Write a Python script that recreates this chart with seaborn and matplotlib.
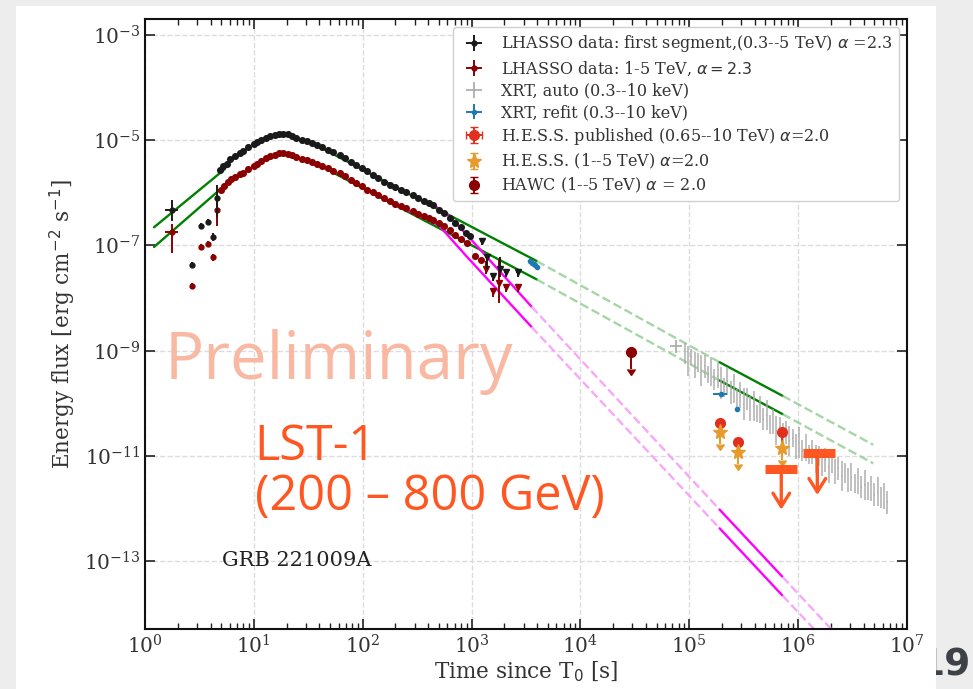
import numpy as np
import matplotlib
matplotlib.use("Agg")
import matplotlib.pyplot as plt
from matplotlib.patches import Rectangle
from matplotlib.ticker import NullLocator
import seaborn as sns

# ---------------------------------------------------------------- data
# LHAASO first segment (0.3-5 TeV), early sparse points
lh_early_t = [1.76, 2.72, 3.25, 3.82, 4.24, 4.62]
lh_early_f = [4.6e-7, 4.3e-8, 2.3e-7, 2.8e-7, 1.45e-7, 7.9e-7]
lh_early_tlo = [0.23, 0.12, 0.13, 0.12, 0.07, 0.05]
lh_early_thi = [0.25, 0.12, 0.13, 0.12, 0.07, 0.05]
lh_early_flo = [1.7e-7, 0.5e-8, 0.3e-7, 0.3e-7, 0.25e-7, 4.4e-7]
lh_early_fhi = [2.8e-7, 0.5e-8, 0.3e-7, 0.3e-7, 0.25e-7, 6.2e-7]

# LHAASO first segment, dense light curve (log10 t, log10 flux)
lh_logt = [0.69, 0.72, 0.75, 0.78, 0.83, 0.87, 0.90, 0.95, 1.00, 1.03,
           1.07, 1.11, 1.15, 1.19, 1.23, 1.27, 1.31, 1.35, 1.39, 1.44,
           1.49, 1.53, 1.58, 1.63, 1.68, 1.73, 1.79, 1.84, 1.89, 1.94,
           1.99, 2.04, 2.09, 2.14, 2.20, 2.25, 2.30, 2.35, 2.40, 2.46,
           2.51, 2.56, 2.61, 2.65, 2.70, 2.75, 2.80, 2.85, 2.90, 2.95, 2.99]
lh_logf = [-5.56, -5.50, -5.45, -5.36, -5.30, -5.24, -5.21, -5.14, -5.08, -5.04,
           -5.00, -4.96, -4.92, -4.90, -4.88, -4.88, -4.89, -4.92, -4.96, -4.99,
           -5.02, -5.05, -5.09, -5.14, -5.19, -5.23, -5.28, -5.35, -5.41, -5.47,
           -5.54, -5.59, -5.66, -5.72, -5.79, -5.85, -5.90, -5.95, -5.99, -6.04,
           -6.10, -6.15, -6.20, -6.23, -6.33, -6.38, -6.48, -6.57, -6.66, -6.76, -6.82]

# LHAASO first segment, late points
lh_late_t = [1234, 1384, 1560, 1823, 2067, 2690]
lh_late_f = [1.2e-7, 6.1e-8, 2.6e-8, 3.5e-8, 3.1e-8, 3.1e-8]
lh_late_flo = [0.2e-7, 2.6e-8, 0.5e-8, 1.0e-8, 0.6e-8, 0.6e-8]
lh_late_fhi = [0.2e-7, 0.5e-8, 0.3e-8, 2.5e-8, 0.3e-8, 0.3e-8]

# LHAASO 1-5 TeV
lr_early_t = [1.76, 2.72, 3.25, 3.82, 4.24, 4.62]
lr_early_f = [1.8e-7, 1.7e-8, 9.3e-8, 1.07e-7, 6.0e-8, 4.7e-7]
lr_early_flo = [1.08e-7, 0.25e-8, 1.2e-8, 1.3e-8, 0.9e-8, 2.4e-7]
lr_early_fhi = [0.7e-7, 0.25e-8, 1.2e-8, 1.3e-8, 0.9e-8, 2.2e-7]

lr_logt = [0.70, 0.73, 0.76, 0.79, 0.83, 0.87, 0.90, 0.95, 1.00, 1.03,
           1.07, 1.11, 1.15, 1.19, 1.23, 1.27, 1.31, 1.35, 1.39, 1.44,
           1.49, 1.53, 1.58, 1.63, 1.68, 1.73, 1.79, 1.84, 1.89, 1.94,
           1.99, 2.04, 2.09, 2.14, 2.20, 2.25, 2.30, 2.35, 2.40, 2.46,
           2.51, 2.56, 2.61, 2.65, 2.70, 2.75, 2.80, 2.85, 2.90, 2.955, 3.03, 3.09]
lr_logf = [-5.94, -5.88, -5.80, -5.74, -5.70, -5.65, -5.62, -5.55, -5.50, -5.46,
           -5.40, -5.35, -5.31, -5.28, -5.25, -5.24, -5.26, -5.28, -5.33, -5.36,
           -5.38, -5.42, -5.45, -5.49, -5.54, -5.58, -5.62, -5.69, -5.75, -5.82,
           -5.88, -5.94, -5.99, -6.04, -6.10, -6.16, -6.21, -6.25, -6.30, -6.35,
           -6.40, -6.44, -6.48, -6.51, -6.58, -6.64, -6.70, -6.80, -6.88, -6.95, -7.21, -7.27]

lr_late_t = [1371, 1585, 1800, 2067, 2690]
lr_late_f = [3.5e-8, 1.35e-8, 1.9e-8, 1.6e-8, 1.6e-8]
lr_late_flo = [0.6e-8, 0.3e-8, 1.1e-8, 0.3e-8, 0.3e-8]
lr_late_fhi = [1.5e-8, 0.2e-8, 3.5e-8, 0.2e-8, 0.2e-8]

# XRT automatic light curve (log10 t, log10 flux, half error in dex)
xrt_logt = [4.96, 4.99, 5.02, 5.05, 5.08, 5.11, 5.14, 5.17, 5.20, 5.23,
            5.26, 5.29, 5.32, 5.35, 5.38, 5.41, 5.44, 5.47, 5.50, 5.53,
            5.56, 5.59, 5.62, 5.65, 5.68, 5.71, 5.74, 5.77, 5.80, 5.83,
            5.86, 5.89, 5.92, 5.95, 5.98, 6.01, 6.04, 6.07, 6.10, 6.13,
            6.16, 6.19, 6.22, 6.25, 6.28, 6.31, 6.34, 6.37, 6.40, 6.43,
            6.46, 6.49, 6.52, 6.55, 6.58, 6.61, 6.64, 6.67, 6.70, 6.73,
            6.76, 6.79, 6.82]
xrt_logf = [-9.05, -9.20, -9.12, -9.28, -9.22, -9.38, -9.30, -9.45, -9.40, -9.55,
            -9.48, -9.62, -9.70, -9.58, -9.80, -9.72, -9.90, -9.85, -10.02, -9.92,
            -10.10, -10.05, -10.20, -10.12, -10.30, -10.22, -10.40, -10.35, -10.52, -10.45,
            -10.62, -10.55, -10.72, -10.66, -10.82, -10.75, -10.90, -10.84, -10.98, -10.92,
            -11.06, -11.00, -11.14, -11.08, -11.22, -11.15, -11.30, -11.24, -11.38, -11.32,
            -11.46, -11.40, -11.52, -11.48, -11.60, -11.55, -11.66, -11.62, -11.74, -11.68,
            -11.80, -11.76, -11.88]
xrt_err = [0.20, 0.28, 0.15, 0.25, 0.18, 0.30, 0.22, 0.16, 0.27, 0.20,
           0.24, 0.30, 0.18, 0.26, 0.22, 0.28, 0.17, 0.25, 0.30, 0.20,
           0.23, 0.28, 0.16, 0.26, 0.21, 0.29, 0.18, 0.24, 0.27, 0.19,
           0.25, 0.22, 0.28, 0.17, 0.24, 0.30, 0.20, 0.26, 0.18, 0.23,
           0.27, 0.19, 0.25, 0.22, 0.29, 0.17, 0.24, 0.21, 0.28, 0.19,
           0.23, 0.26, 0.18, 0.25, 0.21, 0.28, 0.17, 0.24, 0.22, 0.27,
           0.20, 0.25, 0.22]
xrt_first_t = [7.6e4]
xrt_first_f = [1.2e-9]

# XRT refit
xrf_t = [3450, 3600, 3750, 3850, 3980, 1.94e5, 2.76e5]
xrf_f = [5.0e-8, 4.7e-8, 4.4e-8, 4.2e-8, 3.9e-8, 1.5e-10, 7.9e-11]
xrf_terr = [60, 60, 60, 60, 60, 0.3e5, 0.1e5]

# H.E.S.S. published (0.65-10 TeV)
hess_t = [1.9e5, 2.8e5, 7.1e5]
hess_f = [4.2e-11, 1.8e-11, 2.9e-11]
hess_flo = [1.3e-11, 0.6e-11, 1.5e-11]
hess_fhi = [0.4e-11, 0.2e-11, 0.3e-11]

# H.E.S.S. (1-5 TeV), upper limits
hess15_t = [1.9e5, 2.8e5, 7.1e5]
hess15_f = [2.9e-11, 1.2e-11, 1.4e-11]
hess15_ul = [1.2e-11, 0.5e-11, 0.55e-11]

# HAWC (1-5 TeV), upper limit
hawc_t = [2.9e4]
hawc_f = [9.4e-10]
hawc_ul = [5.0e-10]

# LST-1 (200-800 GeV) upper limits
lst_t = [7.0e5, 1.5e6]
lst_tlo = [4.96e5, 1.1e6]
lst_thi = [9.8e5, 2.2e6]
lst_f = [5.7e-12, 1.12e-11]
lst_tip = [9.5e-13, 1.8e-12]

# model curves: node points (t, flux)
green_hi_rise_t = [1.21, 5.4]
green_hi_rise_f = [2.2e-7, 2.8e-6]
green_lo_rise_t = [1.21, 6.0]
green_lo_rise_f = [9.3e-8, 1.66e-6]
green_hi_t = [40, 3981, 1.9e5, 7.2e5, 4.9e6]
green_hi_f = [7.4e-6, 5.0e-8, 6.0e-10, 1.38e-10, 1.62e-11]
green_lo_t = [40, 3981, 1.9e5, 7.2e5, 4.9e6]
green_lo_f = [3.3e-6, 2.24e-8, 2.7e-10, 6.2e-11, 7.2e-12]
magenta_hi_t = [417, 631, 1000, 3565, 1.9e5, 7.2e5, 4.9e6]
magenta_hi_f = [6.5e-7, 3.5e-7, 1.26e-7, 6.8e-9, 9.5e-13, 5.0e-14, 7.1e-16]
magenta_lo_t = [219, 501, 891, 3565, 1.9e5, 7.2e5, 4.9e6]
magenta_lo_f = [5.5e-7, 2.4e-7, 6.3e-8, 2.8e-9, 4.2e-13, 2.2e-14, 3.3e-16]

# ---------------------------------------------------------------- style
sns.set_theme(style="ticks")
plt.rcParams["font.family"] = ["DejaVu Serif"]
plt.rcParams["mathtext.fontset"] = "dejavusans"

C_LST = "#ff5722"
C_HESS = "#e2301f"
C_HESS15 = "#e69b2b"
C_RED = "#8b0000"

fig = plt.figure(figsize=(9.73, 6.89), dpi=100, facecolor="#ededed")
fig.text(0.9985, 0.008, "19", ha="right", va="bottom", fontsize=27,
         fontweight="bold", color="#3c4248", family="DejaVu Sans", zorder=0.4)
fig.patches.append(Rectangle((16 / 973, 0), (936 - 16) / 973, (689 - 6) / 689,
                             transform=fig.transFigure, facecolor="white",
                             edgecolor="none", zorder=0.5))

ax = fig.add_axes([145 / 973, 1 - 629 / 689, 762 / 973, 610 / 689])
ax.set_zorder(1)
ax.set_xscale("log")
ax.set_yscale("log")
ax.set_xlim(1, 1e7)
ax.set_ylim(10 ** -14.29, 10 ** -2.70)


def segment(ts, fs, i, j, color, ls, alpha=1.0):
    sns.lineplot(x=ts[i:j + 1], y=fs[i:j + 1], ax=ax, color=color, ls=ls,
                 lw=1.7, alpha=alpha, estimator=None, sort=False, zorder=2)


# green power laws
for ts, fs in [(green_hi_rise_t, green_hi_rise_f), (green_lo_rise_t, green_lo_rise_f)]:
    segment(ts, fs, 0, 1, "green", "-")
for ts, fs in [(green_hi_t, green_hi_f), (green_lo_t, green_lo_f)]:
    segment(ts, fs, 0, 1, "green", "-")
    segment(ts, fs, 1, 2, "#8fcc8f", "--", 0.8)
    segment(ts, fs, 2, 3, "green", "-")
    segment(ts, fs, 3, 4, "#8fcc8f", "--", 0.8)
# magenta power laws
for ts, fs in [(magenta_hi_t, magenta_hi_f), (magenta_lo_t, magenta_lo_f)]:
    segment(ts, fs, 0, 3, "magenta", "-")
    segment(ts, fs, 3, 4, "#f7a8f7", "--")
    segment(ts, fs, 4, 5, "magenta", "-")
    segment(ts, fs, 5, 6, "#f7a8f7", "--")

# LHAASO
h_lh = ax.errorbar(lh_early_t, lh_early_f, xerr=[lh_early_tlo, lh_early_thi],
                   yerr=[lh_early_flo, lh_early_fhi], fmt="o", ms=3.5, color="k",
                   elinewidth=1.4, zorder=4,
                   label=r"LHASSO data: first segment,(0.3--5 TeV) $\alpha$ =2.3")
sns.scatterplot(x=10 ** np.array(lh_logt), y=10 ** np.array(lh_logf), ax=ax,
                color="k", s=26, linewidth=0, zorder=4)
ax.errorbar(lh_late_t, lh_late_f, xerr=np.array(lh_late_t) * 0.04,
            yerr=[lh_late_flo, lh_late_fhi], fmt="v", ms=5, color="k",
            elinewidth=1.4, zorder=4)

h_lr = ax.errorbar(lr_early_t, lr_early_f, xerr=[lh_early_tlo, lh_early_thi],
                   yerr=[lr_early_flo, lr_early_fhi], fmt="o", ms=3.5, color=C_RED,
                   elinewidth=1.4, zorder=3,
                   label=r"LHASSO data: 1-5 TeV, $\alpha = 2.3$")
sns.scatterplot(x=10 ** np.array(lr_logt), y=10 ** np.array(lr_logf), ax=ax,
                color=C_RED, s=26, linewidth=0, zorder=3)
ax.errorbar(lr_late_t, lr_late_f, xerr=np.array(lr_late_t) * 0.04,
            yerr=[lr_late_flo, lr_late_fhi], fmt="v", ms=5, color=C_RED,
            elinewidth=1.4, zorder=3)

# XRT
xrt_t = 10 ** np.array(xrt_logt)
xrt_f = 10 ** np.array(xrt_logf)
xe = np.array(xrt_err)
ax.errorbar(xrt_t, xrt_f, xerr=xrt_t * 0.005,
            yerr=[xrt_f * (1 - 10 ** -xe), xrt_f * (10 ** xe - 1)],
            fmt="none", ecolor="#a8a8a8", elinewidth=1.2, alpha=0.85, zorder=2)
h_xa = ax.errorbar(xrt_first_t, xrt_first_f, xerr=[[0.9e4], [1.0e4]],
                   yerr=[[0.3e-9], [0.4e-9]], fmt="none", ecolor="#a8a8a8",
                   elinewidth=1.2, zorder=2, label="XRT, auto (0.3--10 keV)")
h_xr = ax.errorbar(xrf_t, xrf_f, xerr=xrf_terr, yerr=np.array(xrf_f) * 0.08,
                   fmt="o", ms=3, color="#1f77b4", elinewidth=1.4, zorder=5,
                   label="XRT, refit (0.3--10 keV)")

# H.E.S.S. and HAWC
h_hess = ax.errorbar(hess_t, hess_f, xerr=np.array(hess_t) * 0.04,
                     yerr=[hess_flo, hess_fhi], fmt="o", ms=7, color=C_HESS,
                     capsize=3, elinewidth=1.4, zorder=5,
                     label="H.E.S.S. published (0.65--10 TeV) $\\alpha$=2.0")
h_hess15 = ax.errorbar(hess15_t, hess15_f, yerr=hess15_ul, uplims=True,
                       fmt="*", ms=11, color=C_HESS15, capsize=3,
                       elinewidth=1.4, zorder=6,
                       label="H.E.S.S. (1--5 TeV) $\\alpha$=2.0")
h_hawc = ax.errorbar(hawc_t, hawc_f, yerr=hawc_ul, uplims=True, fmt="o", ms=7,
                     color=C_RED, capsize=3, elinewidth=1.4, zorder=5,
                     label="HAWC (1--5 TeV) $\\alpha$ = 2.0")

# LST-1 upper limits
ax.hlines(lst_f, lst_tlo, lst_thi, colors=C_LST, lw=6.5, zorder=6)
for t, f, tip in zip(lst_t, lst_f, lst_tip):
    ax.annotate("", xy=(t, tip), xytext=(t, f),
                arrowprops=dict(arrowstyle="->,head_length=0.8,head_width=0.5",
                                color=C_LST, lw=2.4, shrinkA=0, shrinkB=0),
                zorder=6)

# texts
ax.text(0.026, 0.438, "Preliminary", transform=ax.transAxes, fontsize=47,
        color="#f9b8a2", family="Open Sans", va="center", ha="left", zorder=1)
ax.text(0.144, 0.338, "LST-1\n(200 \u2013 800 GeV)", transform=ax.transAxes,
        fontsize=35, color=C_LST, family="Open Sans", va="top", ha="left",
        linespacing=1.0, zorder=7)
ax.text(0.101, 0.113, "GRB 221009A", transform=ax.transAxes, fontsize=15,
        color="#222222", va="center", ha="left")

# axes cosmetics
ax.set_yticks([1e-13, 1e-11, 1e-9, 1e-7, 1e-5, 1e-3])
ax.yaxis.set_minor_locator(NullLocator())
ax.tick_params(which="both", direction="in", top=True, right=True,
               labelsize=14.5, colors="#222222", labelcolor="#333333")
ax.tick_params(which="major", length=7, width=1.2)
ax.tick_params(which="minor", length=4, width=1.0)
ax.grid(True, which="major", ls="--", color="#dcdcdc", lw=1.0)
ax.set_axisbelow(True)
for s in ax.spines.values():
    s.set_linewidth(1.5)
    s.set_color("#111111")
ax.set_xlabel("Time since T$_0$ [s]", fontsize=15.5, color="#333333", labelpad=2)
ax.set_ylabel("Energy flux [erg cm$^{-2}$ s$^{-1}$]", fontsize=15.5, color="#333333")

handles = [h_lh, h_lr, h_xa, h_xr, h_hess, h_hess15, h_hawc]
leg = ax.legend(handles=handles, loc="upper right", fontsize=11.5,
                frameon=True, fancybox=True, framealpha=1.0,
                edgecolor="#d0d0d0", handlelength=1.8, labelspacing=0.3,
                borderpad=0.4)
for t in leg.get_texts():
    t.set_color("#333333")

fig.savefig("out.png", dpi=100, facecolor=fig.get_facecolor())
